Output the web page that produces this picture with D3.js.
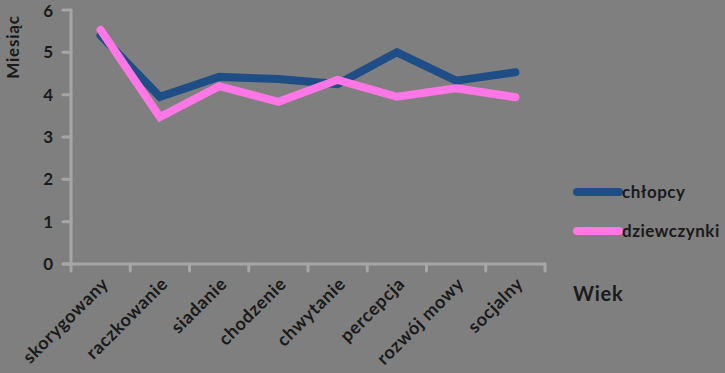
<!DOCTYPE html>
<html>
<head>
<meta charset="utf-8">
<script src="https://cdn.jsdelivr.net/npm/d3@7"></script>
<style>
  html, body { margin: 0; padding: 0; background: #7f7f7f; }
  svg { display: block; }
  text { font-family: Lato, "Open Sans", sans-serif; fill: #1a1a1a; }
</style>
</head>
<body>
<div id="chart"></div>
<script>
const categories = ["skorygowany", "raczkowanie", "siadanie", "chodzenie", "chwytanie", "percepcja", "rozwój mowy", "socjalny"];
const chlopcy = [5.4, 3.95, 4.42, 4.37, 4.25, 5.0, 4.33, 4.53];
const dziewczynki = [5.53, 3.47, 4.2, 3.83, 4.35, 3.95, 4.15, 3.94];
const yTicks = [0, 1, 2, 3, 4, 5, 6];

const width = 725, height = 373;
const axisColor = "#a6a6a6";

const svg = d3.select("#chart").append("svg")
  .attr("width", width)
  .attr("height", height);

svg.append("rect").attr("width", width).attr("height", height).attr("fill", "#7f7f7f");

const x = d3.scaleBand().domain(categories).range([71, 545]);
const y = d3.scaleLinear().domain([0, 6]).range([264, 10]);

// --- osie ---
const axes = svg.append("g").attr("stroke", axisColor).attr("stroke-width", 3).attr("stroke-linecap", "round");

axes.append("line").attr("x1", 71).attr("x2", 71).attr("y1", y(6)).attr("y2", 271);
axes.append("line").attr("x1", 63).attr("x2", 545).attr("y1", y(0)).attr("y2", y(0));

axes.selectAll(".ytick").data(yTicks).join("line")
  .attr("x1", 63).attr("x2", 71)
  .attr("y1", d => y(d)).attr("y2", d => y(d));

const bounds = categories.map(c => x(c)).concat([x.range()[1]]);
axes.selectAll(".xtick").data(bounds.slice(1)).join("line")
  .attr("x1", d => d).attr("x2", d => d)
  .attr("y1", y(0)).attr("y2", 271);

svg.selectAll(".ylabel").data(yTicks).join("text")
  .attr("x", 53)
  .attr("y", d => Math.max(y(d) + 6, 17))
  .attr("text-anchor", "end")
  .attr("font-size", 17)
  .attr("font-weight", "bold")
  .text(d => d);

svg.selectAll(".xlabel").data(categories).join("text")
  .attr("text-anchor", "end")
  .attr("font-size", 18)
  .attr("letter-spacing", 0.6)
  .attr("font-weight", "bold")
  .attr("transform", d => `translate(${x(d) + x.bandwidth() / 2 + 9},${285}) rotate(-45)`)
  .text(d => d);

svg.append("text")
  .attr("transform", "translate(19,47) rotate(-90)")
  .attr("text-anchor", "middle")
  .attr("font-size", 17)
  .attr("letter-spacing", 0.8)
  .attr("font-weight", "bold")
  .text("Miesiąc");

svg.append("text")
  .attr("x", 573)
  .attr("y", 301)
  .attr("font-size", 20)
  .attr("letter-spacing", 0.8)
  .attr("font-weight", "bold")
  .text("Wiek");

// --- linie ---
const series = [
  { name: "chłopcy", values: chlopcy, color: "#1f4e87" },
  { name: "dziewczynki", values: dziewczynki, color: "#ff77e6" }
];

const line = d3.line()
  .x((d, i) => x(categories[i]) + x.bandwidth() / 2)
  .y(d => y(d));

svg.selectAll(".series").data(series).join("path")
  .attr("d", d => line(d.values))
  .attr("fill", "none")
  .attr("stroke", d => d.color)
  .attr("stroke-width", 8)
  .attr("stroke-linecap", "round")
  .attr("stroke-linejoin", "miter");

// --- legenda ---
const legend = svg.append("g");
series.forEach((s, i) => {
  const ly = 192 + i * 39;
  legend.append("line")
    .attr("x1", 577).attr("x2", 619)
    .attr("y1", ly).attr("y2", ly)
    .attr("stroke", s.color)
    .attr("stroke-width", 8)
    .attr("stroke-linecap", "round");
  legend.append("text")
    .attr("x", 622)
    .attr("y", ly + 6)
    .attr("font-size", 17)
    .attr("letter-spacing", 0.5)
    .attr("font-weight", "bold")
    .text(s.name);
});
</script>
</body>
</html>
